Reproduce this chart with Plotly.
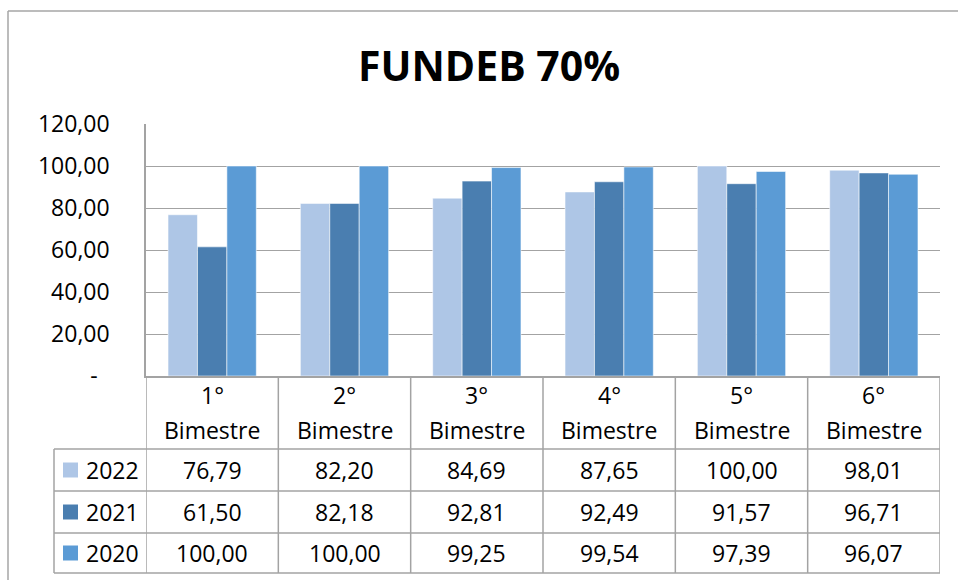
import plotly.graph_objects as go

categories = ["1° Bimestre", "2° Bimestre", "3° Bimestre", "4° Bimestre", "5° Bimestre", "6° Bimestre"]
series_names = ["2022", "2021", "2020"]
v2022 = [76.79, 82.20, 84.69, 87.65, 100.00, 98.01]
v2021 = [61.50, 82.18, 92.81, 92.49, 91.57, 96.71]
v2020 = [100.00, 100.00, 99.25, 99.54, 97.39, 96.07]
tick_vals = [0, 20, 40, 60, 80, 100, 120]
tick_text = ["-\u00a0\u00a0", "20,00", "40,00", "60,00", "80,00", "100,00", "120,00"]
title_text = "FUNDEB 70%"

series_values = [v2022, v2021, v2020]
colors = ["#AEC6E6", "#4A7EB0", "#5B9BD5"]

W, H = 958, 580
FONT = "Open Sans"
FS = 23
GRID = "#a3a3a3"


def px(x):
    return x / W


def py(y):
    return 1 - y / H


def fmt(v):
    return f"{v:,.2f}".replace(",", "X").replace(".", ",").replace("X", ".")


n = len(categories)
idx = list(range(n))

fig = go.Figure()
for name, vals, col in zip(series_names, series_values, colors):
    fig.add_trace(go.Bar(
        x=idx, y=vals, name=name,
        marker=dict(color=col, line=dict(color="rgba(255,255,255,0.55)", width=1)),
        showlegend=False,
    ))

shapes = []
annotations = []

# outer chart border
shapes.append(dict(type="line", xref="paper", yref="paper", x0=px(8), x1=1, y0=py(11), y1=py(11),
                   line=dict(color="#a6a6a6", width=1.5)))
shapes.append(dict(type="line", xref="paper", yref="paper", x0=px(8), x1=px(8), y0=py(11), y1=0,
                   line=dict(color="#a6a6a6", width=1.5)))

# data table geometry (pixels)
table_top, header_bottom = 376, 449
row_bounds = [449, 491, 533, 573]
legend_left = 54

for i in range(n + 1):
    shapes.append(dict(type="line", xref="x", yref="paper", x0=i - 0.5, x1=i - 0.5,
                       y0=py(table_top), y1=py(row_bounds[-1]), line=dict(color=GRID, width=1.5)))
shapes.append(dict(type="line", xref="paper", yref="paper", x0=px(legend_left), x1=px(legend_left),
                   y0=py(header_bottom), y1=py(row_bounds[-1]), line=dict(color=GRID, width=1.5)))
for yb in row_bounds:
    shapes.append(dict(type="line", xref="paper", yref="paper",
                       x0=px(legend_left), x1=px(940), y0=py(yb), y1=py(yb),
                       line=dict(color=GRID, width=1.5)))

for i, c in enumerate(categories):
    first, second = c.split(" ", 1)
    annotations.append(dict(x=i, y=py(395), xref="x", yref="paper", text=first, showarrow=False,
                            font=dict(family=FONT, size=FS, color="#000"), xanchor="center", yanchor="middle"))
    annotations.append(dict(x=i, y=py(430), xref="x", yref="paper", text=second, showarrow=False,
                            font=dict(family=FONT, size=FS, color="#000"), xanchor="center", yanchor="middle"))

for r, (name, vals, col) in enumerate(zip(series_names, series_values, colors)):
    yc = (row_bounds[r] + row_bounds[r + 1]) / 2
    shapes.append(dict(type="rect", xref="paper", yref="paper", x0=px(63), x1=px(78),
                       y0=py(yc - 7.5), y1=py(yc + 7.5), fillcolor=col, line=dict(width=0)))
    annotations.append(dict(x=px(84), y=py(yc), xref="paper", yref="paper", text=name, showarrow=False,
                            font=dict(family=FONT, size=FS, color="#000"), xanchor="left", yanchor="middle"))
    for i, v in enumerate(vals):
        annotations.append(dict(x=i, y=py(yc), xref="x", yref="paper", text=fmt(v), showarrow=False,
                                font=dict(family=FONT, size=FS, color="#000"), xanchor="center", yanchor="middle"))

annotations.append(dict(x=px(489), y=py(65), xref="paper", yref="paper", text=f"<b>{title_text}</b>",
                        showarrow=False, font=dict(family=FONT, size=41, color="#000"),
                        xanchor="center", yanchor="middle"))

fig.update_layout(
    width=W, height=H, autosize=False,
    margin=dict(l=0, r=0, t=0, b=0, pad=0, autoexpand=False),
    paper_bgcolor="white", plot_bgcolor="white",
    barmode="group", bargap=0.333, bargroupgap=0,
    xaxis=dict(domain=[px(146), px(940)], range=[-0.5, n - 0.5], showticklabels=False,
               showgrid=False, zeroline=False, showline=True, linecolor=GRID, linewidth=1.5, ticks=""),
    yaxis=dict(domain=[py(376), py(124)], range=[0, 120], tickvals=tick_vals, ticktext=tick_text,
               showgrid=True, gridcolor=GRID, gridwidth=1.3, zeroline=False,
               showline=True, linecolor=GRID, linewidth=1.5, ticks="", ticklabelstandoff=30,
               tickfont=dict(family=FONT, size=FS, color="#000")),
    shapes=shapes, annotations=annotations,
)

fig.write_html("out.html", config={"displayModeBar": False},
               post_script="document.body.style.margin='0';")
